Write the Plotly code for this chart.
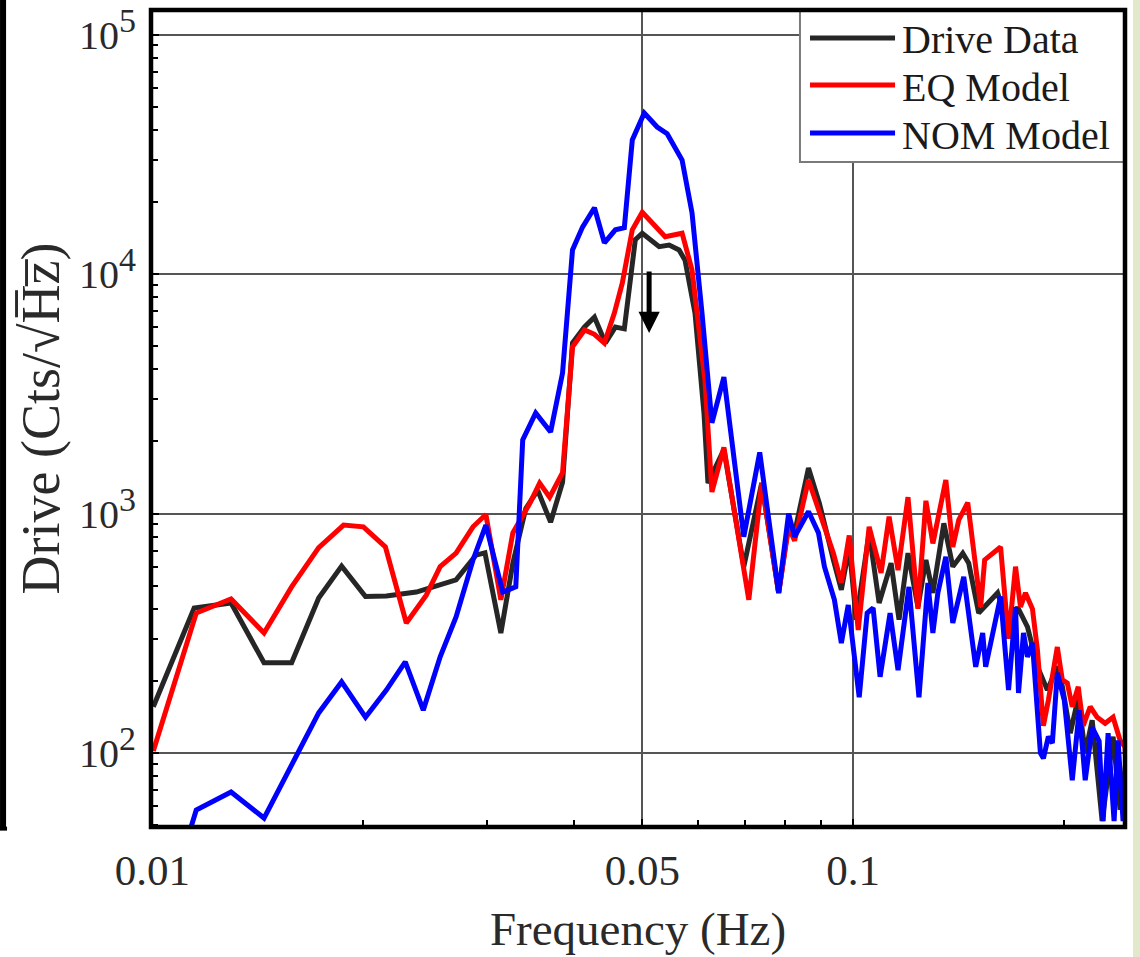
import math
import plotly.graph_objects as go

# ---------------- data ----------------
drive_freq = [0.01003, 0.01147, 0.01295, 0.01443, 0.01580, 0.01727, 0.01862, 0.02014, 0.02157, 0.02380,
              0.02712, 0.02895, 0.02982, 0.03142, 0.03268, 0.03410, 0.03546, 0.03700, 0.03848, 0.03976,
              0.04136, 0.04273, 0.04430, 0.04577, 0.04714, 0.04887, 0.05000, 0.05286, 0.05462, 0.05643,
              0.05755, 0.05946, 0.06124, 0.06205, 0.06538, 0.06980, 0.07403, 0.07827, 0.08087, 0.08247,
              0.08633, 0.08950, 0.09369, 0.09617, 0.09870, 0.10099, 0.10537, 0.10888, 0.11324, 0.11624,
              0.11971, 0.12369, 0.12697, 0.12991, 0.13467, 0.13870, 0.14331, 0.14615, 0.15101, 0.15552,
              0.16069, 0.16767, 0.17156, 0.17726, 0.18315, 0.18924, 0.19553, 0.19876, 0.20403, 0.20944,
              0.21430, 0.21926, 0.22655, 0.23485, 0.24029, 0.24586]
drive_vals = [156, 403, 423, 238, 238, 444, 603, 450, 452, 470,
              528, 670, 685, 317, 620, 1050, 1250, 920, 1350, 5150,
              6010, 6600, 5150, 6000, 5900, 13900, 14800, 13000, 13200, 12600,
              11400, 6870, 2630, 1340, 1850, 600, 1340, 466, 900, 830,
              1550, 1100, 640, 480, 725, 360, 830, 423, 620, 360,
              683, 407, 640, 466, 910, 600, 683, 620, 384, 420,
              466, 317, 407, 336, 230, 183, 230, 190, 121, 170,
              100, 137, 52, 117, 58, 100]

eq_freq = [0.01003, 0.01155, 0.01295, 0.01443, 0.01580, 0.01727, 0.01874, 0.02000, 0.02150, 0.02303,
           0.02459, 0.02574, 0.02712, 0.02867, 0.02991, 0.03142, 0.03268, 0.03454, 0.03569, 0.03688,
           0.03848, 0.03976, 0.04136, 0.04273, 0.04415, 0.04562, 0.04683, 0.04839, 0.05000, 0.05217,
           0.05391, 0.05699, 0.05888, 0.06144, 0.06286, 0.06538, 0.07096, 0.07403, 0.07827, 0.08087,
           0.08247, 0.08633, 0.09097, 0.09369, 0.09617, 0.09870, 0.10165, 0.10537, 0.10959, 0.11250,
           0.11586, 0.11971, 0.12369, 0.12697, 0.12991, 0.13205, 0.13556, 0.13870, 0.14145, 0.14567,
           0.14856, 0.15200, 0.15400, 0.15808, 0.16228, 0.16658, 0.17044, 0.17325, 0.17611, 0.18018,
           0.18315, 0.18678, 0.18986, 0.19553, 0.19876, 0.20204, 0.20537, 0.20944, 0.21290, 0.21783,
           0.22288, 0.22879, 0.23485, 0.24029, 0.24425, 0.24666]
eq_vals = [102, 384, 440, 317, 494, 720, 895, 880, 725, 349,
           456, 600, 683, 880, 990, 436, 830, 1100, 1340, 1170,
           1480, 4960, 5840, 5600, 5150, 6870, 9170, 15300, 18100, 15700,
           14300, 14800, 10400, 3600, 1230, 1890, 436, 1340, 466, 880,
           770, 1380, 890, 683, 513, 810, 326, 880, 565, 970,
           580, 1170, 400, 1130, 750, 970, 1380, 725, 940, 1110,
           683, 407, 640, 683, 725, 300, 600, 407, 466, 400,
           269, 130, 166, 277, 202, 196, 156, 189, 130, 156,
           141, 133, 141, 113, 106, 60]

nom_freq = [0.01003, 0.01155, 0.01295, 0.01443, 0.01727, 0.01862, 0.02014, 0.02157, 0.02295, 0.02435,
            0.02574, 0.02712, 0.02867, 0.02991, 0.03162, 0.03300, 0.03376, 0.03523, 0.03700, 0.03848,
            0.03976, 0.04109, 0.04273, 0.04415, 0.04577, 0.04714, 0.04839, 0.05033, 0.05251, 0.05426,
            0.05699, 0.05888, 0.06084, 0.06286, 0.06538, 0.06980, 0.07355, 0.07827, 0.08087, 0.08247,
            0.08633, 0.08920, 0.09097, 0.09400, 0.09617, 0.09838, 0.10198, 0.10468, 0.10676, 0.10923,
            0.11287, 0.11586, 0.12010, 0.12410, 0.12780, 0.12991, 0.13205, 0.13556, 0.13870, 0.14378,
            0.14954, 0.15300, 0.15451, 0.16228, 0.16658, 0.17044, 0.17212, 0.17496, 0.17726, 0.18018,
            0.18496, 0.18678, 0.18986, 0.19236, 0.19553, 0.20007, 0.20537, 0.21013, 0.21430, 0.21926,
            0.22434, 0.22729, 0.23104, 0.23562, 0.23872, 0.24266, 0.24586]
nom_vals = [15, 57.8, 68.7, 53.5, 147, 198, 141, 183, 240, 151,
            252, 370, 640, 895, 470, 494, 2030, 2630, 2190, 3860,
            12600, 15700, 18900, 13500, 15300, 15600, 36300, 47000, 41100, 38500,
            29900, 18000, 6870, 2390, 3710, 800, 1800, 466, 1000, 800,
            1020, 830, 600, 436, 288, 415, 171, 384, 403, 208,
            384, 222, 494, 171, 513, 317, 466, 660, 349, 544,
            229, 317, 229, 450, 183, 407, 178, 317, 252, 288,
            100, 95, 117, 110, 216, 166, 77, 151, 77, 128,
            112, 52, 121, 52, 113, 52, 82]

series_names = ["Drive Data", "EQ Model", "NOM Model"]
series_colors = ["#262626", "#ff0000", "#0000ff"]

x_tick_vals = [0.01, 0.05, 0.1]
x_tick_text = ["0.01", "0.05", "0.1"]
x_minor_vals = [0.02, 0.03, 0.04, 0.06, 0.07, 0.08, 0.09, 0.2]
y_tick_vals = [1e2, 1e3, 1e4, 1e5]
y_tick_exps = ["2", "3", "4", "5"]
y_tick_text = ["10<sup><span style='font-size:34px'>%s</span></sup>" % e for e in y_tick_exps]
y_minor_vals = [m * 10 ** e for e in range(1, 5) for m in range(2, 10)]

arrow_freq = 0.05114
arrow_tip = 5672

FONT = "Liberation Serif"

fig = go.Figure()
for fx, fy, name, col in [(drive_freq, drive_vals, series_names[0], series_colors[0]),
                          (eq_freq, eq_vals, series_names[1], series_colors[1]),
                          (nom_freq, nom_vals, series_names[2], series_colors[2])]:
    fig.add_trace(go.Scatter(x=fx, y=fy, mode="lines", name=name,
                             line=dict(color=col, width=5), showlegend=False))

fig.update_layout(
    width=1140, height=957,
    margin=dict(l=151, r=15, t=10, b=130, autoexpand=False),
    paper_bgcolor="white", plot_bgcolor="white",
    font=dict(family=FONT, color="#222222"),
)

fig.update_xaxes(
    type="log", range=[-2.002, -0.61222], automargin=False,
    tickmode="array", tickvals=x_tick_vals, ticktext=x_tick_text,
    ticks="inside", ticklen=8, tickwidth=1.5, tickcolor="black",
    showgrid=True, gridcolor="#555555", gridwidth=2,
    zeroline=False, showline=False,
    minor=dict(tickmode="array", tickvals=x_minor_vals, ticks="inside",
               ticklen=7, tickwidth=1.5, tickcolor="black", showgrid=False),
    tickfont=dict(family=FONT, size=43, color="#2a2a2a"),
    ticklabelstandoff=14,
    title=dict(text="Frequency (Hz)", font=dict(family=FONT, size=47, color="#2a2a2a"),
               standoff=19),
)
fig.update_yaxes(
    type="log", range=[1.69102, 5.10230], automargin=False,
    tickmode="array", tickvals=y_tick_vals, ticktext=y_tick_text,
    ticks="inside", ticklen=8, tickwidth=1.5, tickcolor="black",
    showgrid=True, gridcolor="#555555", gridwidth=2,
    zeroline=False, showline=False,
    minor=dict(tickmode="array", tickvals=y_minor_vals, ticks="inside",
               ticklen=7, tickwidth=1.5, tickcolor="black", showgrid=False),
    tickfont=dict(family=FONT, size=40, color="#2a2a2a"),
    ticklabelstandoff=14,
    title=dict(text="Drive (Cts/\u221aH\u0305z\u0305)",
               font=dict(family=FONT, size=54, color="#2a2a2a"), standoff=2),
)

shapes = []
# legend box
shapes.append(dict(type="rect", xref="paper", yref="paper", x0=0.6663, x1=1.0, y0=0.8140, y1=1.0,
                   line=dict(color="#7a7a7a", width=2), fillcolor="white", layer="above"))
legend_rows = [0.9658, 0.9082, 0.8494]
for row, col in zip(legend_rows, series_colors):
    shapes.append(dict(type="line", xref="paper", yref="paper", x0=0.6766, x1=0.7639, y0=row, y1=row,
                       line=dict(color=col, width=5), layer="above"))
# neighbouring panel edge (left) and page strip (right)
shapes.append(dict(type="rect", xref="paper", yref="paper", x0=-0.1550, x1=-0.1488, y0=-0.003, y1=1.0122,
                   line=dict(width=0), fillcolor="black", layer="above"))
shapes.append(dict(type="line", xref="paper", yref="paper", x0=-0.1560, x1=-0.1478, y0=-0.002, y1=-0.002,
                   line=dict(width=4, color="black"), layer="above"))
shapes.append(dict(type="rect", xref="paper", yref="paper", x0=1.0082, x1=1.02, y0=-0.16, y1=1.0122,
                   line=dict(width=0), fillcolor="#e2e8cb", layer="above"))
# plot frame
shapes.append(dict(type="rect", xref="paper", yref="paper", x0=0, x1=1, y0=0, y1=1,
                   line=dict(color="black", width=4.5), fillcolor="rgba(0,0,0,0)", layer="above"))
fig.update_layout(shapes=shapes)

annotations = []
legend_text_rows = [0.9633, 0.9046, 0.8470]
for row, name in zip(legend_text_rows, series_names):
    annotations.append(dict(xref="paper", yref="paper", x=0.7690, y=row, text=name, showarrow=False,
                            xanchor="left", yanchor="middle",
                            font=dict(family=FONT, size=40, color="#1a1a1a")))
annotations.append(dict(xref="x", yref="y", x=math.log10(arrow_freq), y=math.log10(arrow_tip),
                        ax=0, ay=-63, axref="pixel", ayref="pixel", text="", showarrow=True,
                        arrowhead=2, arrowsize=0.85, arrowwidth=5, arrowcolor="black"))
fig.update_layout(annotations=annotations)

fig.write_html("out.html")
